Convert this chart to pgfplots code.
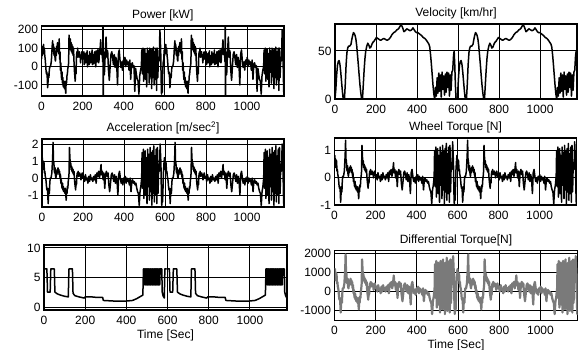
\documentclass[border=0pt]{standalone}
\usepackage{pgfplots}
\usepackage{pgfplotstable}
\pgfplotsset{compat=1.18}
\usepackage{fontspec}
\setmainfont{Liberation Sans}

\pgfplotstableread{
t v
0 0
4 10
8 25
12 35
16 39
20 40
24 36
28 28
32 18
36 8
40 0
46 0
50 15
54 35
58 48
62 53
66 55
72 55
78 57
82 62
86 66
90 69
94 68
98 66
102 62
106 55
110 45
114 35
118 24
122 14
126 6
130 0
134 0
138 15
142 30
146 42
150 50
155 55
160 58
165 56
170 53
175 54
180 57
185 59
190 60
196 62
202 64
208 63
215 62
222 61
230 62
238 63
246 62
254 61
262 62
270 64
278 67
286 69
294 70
302 72
310 73
318 76
324 77
330 74
336 70
342 71
350 73
358 72
366 71
374 72
380 74
386 72
392 70
398 69
404 69
410 68
416 67
422 66
430 64
438 63
446 61
452 59
458 57
462 54
466 46
470 36
474 25
478 14
482 5
486 0
490 12
494 3
498 22
502 6
506 27
510 8
514 25
518 2
522 28
526 10
530 24
534 4
538 26
542 7
546 28
550 12
554 27
558 3
562 25
566 9
570 28
574 30
578 45
581 50
584 35
587 15
590 0
595 0
}\vel

\pgfplotstableread{
t a w d
0 0.9 0.62 920
2 1.2 0.81 1170
4 0.5 0.37 580
6 1.0 0.68 1000
8 0.6 0.43 660
10 0.9 0.62 920
12 0.3 0.24 410
14 0.4 0.30 490
16 0.1 0.11 240
18 0.0 0.05 150
20 -0.2 -0.08 -20
22 -0.5 -0.27 -280
24 -0.7 -0.39 -450
26 -0.6 -0.33 -360
28 -0.9 -0.52 -620
30 -1.5 -0.90 -1130
32 -1.0 -0.58 -700
34 -0.6 -0.33 -360
36 -0.9 -0.52 -620
38 -0.3 -0.14 -110
40 0.0 0.05 150
44 0.0 0.05 150
48 0.3 0.24 410
52 1.2 0.81 1170
54 2.1 1.37 1940
56 1.0 0.68 1000
58 0.9 0.62 920
60 0.4 0.30 490
62 0.3 0.24 410
64 0.6 0.43 660
66 0.1 0.11 240
68 0.0 0.05 150
70 0.3 0.24 410
72 0.2 0.18 320
74 0.5 0.37 580
76 0.3 0.24 410
78 0.6 0.43 660
80 0.4 0.30 490
82 0.5 0.37 580
84 0.2 0.18 320
86 0.4 0.30 490
88 0.0 0.05 150
90 0.2 0.18 320
92 -0.3 -0.14 -110
94 -0.1 -0.01 70
96 -0.4 -0.20 -190
98 -0.6 -0.33 -360
100 -0.3 -0.14 -110
102 -0.7 -0.39 -450
104 -0.5 -0.27 -280
106 -0.8 -0.45 -530
108 -0.6 -0.33 -360
110 -0.7 -0.39 -450
112 -0.9 -0.52 -620
114 -0.6 -0.33 -360
116 -1.0 -0.58 -700
118 -1.3 -0.77 -960
120 -0.7 -0.39 -450
122 -0.9 -0.52 -620
124 -0.5 -0.27 -280
126 -0.6 -0.33 -360
128 -0.2 -0.08 -20
130 0.0 0.05 150
132 0.3 0.24 410
134 1.8 1.18 1680
136 1.2 0.81 1170
138 0.8 0.55 830
140 0.9 0.62 920
142 0.5 0.37 580
144 0.7 0.49 750
146 0.4 0.30 490
148 0.6 0.43 660
150 0.3 0.24 410
152 0.5 0.37 580
154 0.2 0.18 320
156 0.4 0.30 490
158 0.0 0.05 150
160 -0.3 -0.14 -110
162 -0.5 -0.27 -280
164 -0.7 -0.39 -450
166 -0.2 -0.08 -20
168 -0.4 -0.20 -190
170 0.1 0.11 240
172 0.3 0.24 410
174 0.2 0.18 320
176 0.4 0.30 490
178 0.1 0.11 240
180 0.3 0.24 410
182 0.2 0.18 320
184 0.3 0.24 410
186 0.1 0.11 240
188 0.2 0.18 320
190 -0.1 -0.01 70
192 0.1 0.11 240
196 0.3 0.24 410
200 0.0 0.05 150
204 0.1 0.11 240
208 -0.2 -0.08 -20
212 0.2 0.18 320
216 -0.1 -0.01 70
220 0.0 0.05 150
224 -0.3 -0.14 -110
228 0.1 0.11 240
232 -0.2 -0.08 -20
236 0.2 0.18 320
240 -0.1 -0.01 70
244 0.0 0.05 150
248 -0.2 -0.08 -20
252 0.1 0.11 240
256 -0.1 -0.01 70
260 0.2 0.18 320
264 -0.3 -0.14 -110
268 0.3 0.24 410
272 0.1 0.11 240
276 0.4 0.30 490
280 0.0 0.05 150
284 0.3 0.24 410
288 0.8 0.55 830
290 0.2 0.18 320
294 0.4 0.30 490
298 -0.1 -0.01 70
302 0.3 0.24 410
306 -0.6 -0.33 -360
310 0.2 0.18 320
314 0.4 0.30 490
318 0.1 0.11 240
322 0.3 0.24 410
326 -0.4 -0.20 -190
330 -0.8 -0.45 -530
334 -0.3 -0.14 -110
338 0.2 0.18 320
342 0.3 0.24 410
346 0.1 0.11 240
350 -0.2 -0.08 -20
354 0.2 0.18 320
358 -0.3 -0.14 -110
362 0.1 0.11 240
366 -0.2 -0.08 -20
370 -1.0 -0.58 -700
374 0.2 0.18 320
378 0.4 0.30 490
382 0.0 0.05 150
386 -0.3 -0.14 -110
390 -0.1 -0.01 70
394 -0.4 -0.20 -190
398 0.0 0.05 150
402 -0.2 -0.08 -20
406 0.1 0.11 240
410 -0.3 -0.14 -110
414 0.0 0.05 150
418 -0.2 -0.08 -20
422 -0.1 -0.01 70
426 -0.4 -0.20 -190
430 0.0 0.05 150
434 -0.8 -0.45 -530
438 -0.2 -0.08 -20
442 -0.1 -0.01 70
446 -0.3 -0.14 -110
450 -0.2 -0.08 -20
454 -0.4 -0.20 -190
458 -0.3 -0.14 -110
462 -0.6 -0.33 -360
466 -0.8 -0.45 -530
470 -0.9 -0.52 -620
474 -1.6 -0.95 -1210
478 -0.8 -0.45 -530
482 -0.5 -0.27 -280
486 0.0 0.05 150
488 1.5 0.99 1430
491 -0.6 -0.33 -360
494 1.7 1.12 1600
497 -1.2 -0.71 -870
500 0.4 0.30 490
503 1.6 1.06 1510
506 -1.0 -0.58 -700
509 1.2 0.81 1170
512 -1.5 -0.90 -1130
515 1.7 1.12 1600
518 -0.5 -0.27 -280
521 1.4 0.93 1340
524 -1.3 -0.77 -960
527 1.8 1.18 1680
530 -0.8 -0.45 -530
533 1.5 0.99 1430
536 -1.6 -0.96 -1210
539 1.6 1.06 1510
542 -0.9 -0.52 -620
545 1.9 1.25 1770
548 -1.4 -0.83 -1040
551 1.3 0.87 1260
554 -1.0 -0.58 -700
557 1.7 1.12 1600
560 -1.5 -0.90 -1130
563 1.8 1.18 1680
566 -0.9 -0.52 -620
569 0.8 0.55 830
572 0.4 0.30 490
574 1.0 0.68 1000
576 2.0 1.31 1850
578 1.4 0.93 1340
580 0.8 0.55 830
582 -0.8 -0.45 -530
584 -1.6 -0.96 -1210
586 -1.0 -0.58 -700
588 -1.4 -0.83 -1040
590 -0.6 -0.33 -360
592 0.3 0.24 410
595 0.9 0.62 920
}\acc

\pgfplotstableread{
t p
0 40
2 90
4 60
6 110
8 70
10 120
12 80
14 100
16 60
18 40
20 10
22 -20
24 -40
26 -30
28 -60
30 -115
32 -80
34 -40
36 -60
38 -20
40 0
44 0
48 30
52 110
54 140
56 100
58 120
60 70
62 60
64 100
66 40
68 30
70 80
72 60
74 110
76 80
78 130
80 100
82 120
84 70
86 150
88 40
90 80
92 -20
94 20
96 -40
98 -70
100 -30
102 -90
104 -60
106 -110
108 -80
110 -90
112 -120
114 -80
116 -120
118 -145
120 -80
122 -90
124 -50
126 -40
128 -10
130 0
132 20
134 170
136 140
138 120
140 150
142 90
144 130
146 80
148 120
150 70
152 110
154 60
156 100
158 30
160 -20
162 -50
164 -80
166 -10
168 -40
170 50
172 80
174 60
176 100
178 50
180 80
182 70
184 80
186 50
188 60
190 20
192 50
196 80
200 40
204 47
206 80
208 10
210 70
212 60
214 20
216 23
218 75
220 35
222 85
224 -2
226 60
228 47
230 15
232 10
234 80
236 60
238 20
240 23
242 70
244 35
246 90
248 10
250 65
252 47
254 15
256 23
258 80
260 60
262 30
264 -2
266 85
268 72
270 25
272 47
274 90
276 84
278 20
280 35
282 95
284 75
288 145
290 65
294 90
298 25
299 400
300 -300
302 80
306 -45
310 70
314 160
318 50
322 85
326 -20
330 -75
334 0
338 65
342 80
346 50
350 10
354 65
358 -5
362 50
366 10
370 -100
374 65
378 90
382 35
386 -5
390 25
394 -20
398 35
402 10
406 50
410 0
414 35
418 10
422 25
426 -20
430 35
434 -70
438 10
442 20
446 -5
450 5
454 -135
458 -10
462 -45
466 -70
470 -80
474 -150
478 -50
482 -20
486 0
488 90
491 -40
494 100
497 -80
500 30
503 95
506 -70
509 70
512 -110
515 100
518 -30
521 85
524 -90
527 100
530 -55
533 90
536 -120
539 95
542 -60
545 105
548 -100
551 80
554 -70
557 100
560 -130
563 100
566 -60
569 50
572 30
574 80
576 200
578 150
580 90
582 -60
584 -150
586 -100
588 -140
590 -40
592 20
595 40
}\pow

\pgfplotstableread{
t g
0 6.5
3 6.5
14 6.5
17 2.6
30 2.6
33 6.5
50 6.5
53 2.6
65 2.3
80 2.1
100 1.9
118 1.8
121 6.5
138 6.5
141 2.4
150 2.0
170 1.8
195 1.6
200 1.8
230 1.8
260 1.7
285 1.7
288 1.2
340 1.1
400 1.1
430 1.2
450 1.5
470 1.9
480 2.1
483 6.5
488 6.5
490 3.8
492 6.5
494 3.8
496 6.5
498 3.8
500 6.5
502 3.8
504 6.5
506 3.8
508 6.5
510 3.8
512 6.5
514 3.8
516 6.5
518 3.8
520 6.5
522 3.8
524 6.5
526 3.8
528 6.5
530 3.8
532 6.5
534 3.8
536 6.5
538 3.8
540 6.5
542 3.8
544 6.5
546 3.8
548 6.5
550 3.8
552 6.5
554 3.8
556 6.5
558 3.8
560 6.5
562 3.8
564 6.5
572 6.5
574 2.6
578 2.0
584 1.6
587 6.5
595 6.5
}\gear

\pgfplotsset{
  panel/.style={
    scale only axis, anchor=south west,
    xmin=0, xmax=1180, xtick={0,200,400,600,800,1000},
    grid=major, major grid style={black, line width=1pt},
    axis line style={line width=1.4pt},
    major tick length=0pt,
    tick label style={font=\fontsize{12}{13}\selectfont},
    xticklabel style={yshift=-2.5pt},
    title style={font=\fontsize{12}{13}\selectfont, yshift=-5pt},
    label style={font=\fontsize{12}{13}\selectfont},
    xlabel style={yshift=2pt},
    /pgf/number format/assume math mode=true,
    /pgf/number format/set thousands separator={},
  },
  ln/.style={black, no markers, line width=1.5pt, line join=round},
}

\begin{document}
\begin{tikzpicture}
\useasboundingbox (0pt,0pt) rectangle (578pt,350pt);

% Power
\begin{axis}[panel, at={(41.5pt,254pt)}, width=242.5pt, height=70pt,
  ymin=-160, ymax=220, ytick={-100,0,100,200}, title={Power [kW]}]
\addplot[ln] table[x=t, y=p] {\pow};
\addplot[ln] table[x expr=\thisrow{t}+595, y=p] {\pow};
\end{axis}

% Velocity
\begin{axis}[panel, at={(335pt,251pt)}, width=242pt, height=75pt,
  ymin=0, ymax=78, ytick={0,50}, title={Velocity [km/hr]}]
\addplot[ln] table[x=t, y=v] {\vel};
\addplot[ln] table[x expr=\thisrow{t}+595, y=v] {\vel};
\end{axis}

% Acceleration
\begin{axis}[panel, at={(42pt,143pt)}, width=242pt, height=68pt,
  ymin=-1.7, ymax=2.3, ytick={-1,0,1,2}, title={Acceleration [m/sec\textsuperscript{2}]}]
\addplot[ln] table[x=t, y=a] {\acc};
\addplot[ln] table[x expr=\thisrow{t}+595, y=a] {\acc};
\end{axis}

% Wheel torque
\begin{axis}[panel, at={(334.5pt,145pt)}, width=242pt, height=67pt,
  ymin=-1, ymax=1.45, ytick={-1,0,1}, title={Wheel Torque [N]}]
\addplot[ln] table[x=t, y=w] {\acc};
\addplot[ln] table[x expr=\thisrow{t}+595, y=w] {\acc};
\node[anchor=south west, font=\fontsize{12}{13}\selectfont, inner sep=1pt] at (rel axis cs:0,1) {x 10\textsuperscript{4}};
\end{axis}

% Gear / ratio
\begin{axis}[panel, at={(44pt,40pt)}, width=243pt, height=65pt,
  ymin=-0.4, ymax=10.5, ytick={0,5,10}, xlabel={Time [Sec]}]
\addplot[ln] table[x=t, y=g] {\gear};
\addplot[ln] table[x expr=\thisrow{t}+595, y=g] {\gear};
\end{axis}

% Differential torque
\begin{axis}[panel, at={(334.5pt,29.5pt)}, width=243pt, height=70pt,
  ymin=-1550, ymax=2150, ytick={-1000,0,1000,2000}, title={Differential Torque[N]}, xlabel={Time [Sec]}]
\addplot[ln, color=black!52, line width=2.2pt] table[x=t, y=d] {\acc};
\addplot[ln, color=black!52, line width=2.2pt] table[x expr=\thisrow{t}+595, y=d] {\acc};
\end{axis}
\end{tikzpicture}
\end{document}
